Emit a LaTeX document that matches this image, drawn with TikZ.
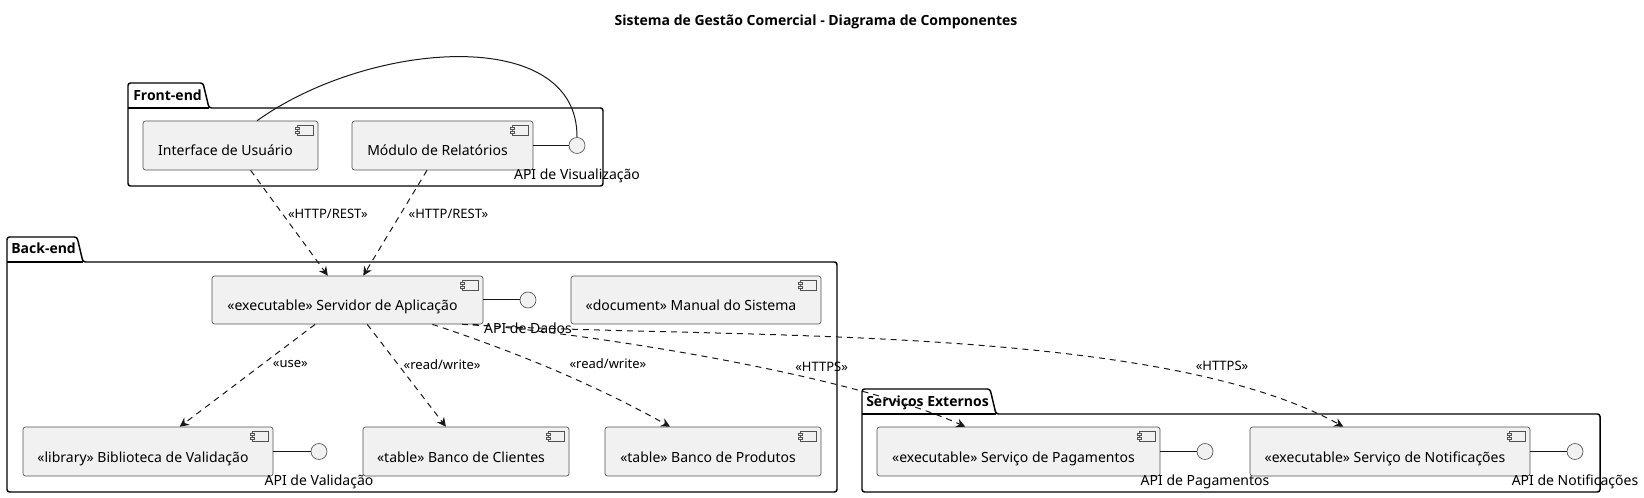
\documentclass[tikz,border=0pt]{standalone}
\usepackage{fontspec}
\setmainfont{Noto Sans}[BoldFont={Noto Sans}, BoldFeatures={FakeBold=2.5}]
\newfontfamily\headfont{Open Sans}
\usetikzlibrary{arrows.meta,positioning}

\definecolor{compfill}{HTML}{F1F1F1}
\definecolor{compline}{HTML}{181818}
\newdimen\pxu
\pxu=0.75pt

\tikzset{
  comp/.style={draw=compline!75, fill=compfill, line width=0.5pt,
    rounded corners=1.9pt, minimum height=36.75pt, inner sep=0pt,
    font=\fontsize{10.5}{12}\selectfont, text height=18pt, text depth=2.25pt,
    execute at begin node={\hspace*{-10\pxu}},
    path picture={
      \draw[sharp corners, draw=compline!75, line width=0.4pt]
        ([shift={(-21,4)}]path picture bounding box.north east) rectangle ++(16,10);
      \draw[sharp corners, draw=compline!75, fill=compfill, line width=0.4pt]
        ([shift={(-23,6)}]path picture bounding box.north east) rectangle ++(4,2)
        ([shift={(-23,10)}]path picture bounding box.north east) rectangle ++(4,2);
    }},
  lolli/.style={circle, draw=compline!75, fill=compfill, line width=0.5pt,
    minimum size=12pt, inner sep=0pt},
  apitext/.style={font=\fontsize{10.5}{12}\selectfont, inner sep=0pt,
    text height=8pt, text depth=2.5pt},
  pkg/.style={draw=black, line width=1.1pt, rounded corners=1.9pt},
  pkgname/.style={font=\headfont\fontsize{10.5}{12}\selectfont\bfseries, anchor=base west, inner sep=0pt},
  dep/.style={draw=compline, line width=0.75pt, dash pattern=on 4.5pt off 3.75pt,
    -{Stealth[length=6.75pt, width=6.75pt, inset=2.25pt]}},
  ball/.style={draw=compline, line width=0.75pt},
  rlabel/.style={font=\fontsize{9.75}{11}\selectfont, inner sep=1pt},
}

\begin{document}
\begin{tikzpicture}[x=0.75pt, y=-0.75pt]
\useasboundingbox (0,0) rectangle (1644,498);

\node[font=\headfont\fontsize{10.5}{12}\selectfont\bfseries, anchor=base] (title) at (816,25.5)
  {Sistema de Gestão Comercial - Diagrama de Componentes};

% packages
\draw[pkg] (128,186) -- (128,83) -- (203,83) -- (209,108) -- (603,108) -- (603,186) -- cycle;
\draw[pkg] (128,108) -- (209,108);
\node[pkgname] (front) at (133,101) {Front-end};

\draw[pkg] (7,492) -- (7,237) -- (77,237) -- (83,262) -- (837,262) -- (837,492) -- cycle;
\draw[pkg] (7,262) -- (83,262);
\node[pkgname] (back) at (11,254) {Back-end};

\draw[pkg] (862,492) -- (862,389) -- (990,389) -- (996,414) -- (1600,414) -- (1600,492) -- cycle;
\draw[pkg] (862,414) -- (996,414);
\node[pkgname] (ext) at (866,406.5) {Serviços Externos};

% components
\node[comp, minimum width=131.25pt] (ui) at (230.5,145.5) {Interface de Usuário};
\node[comp, minimum width=135.75pt] (rel) at (442.5,145.5) {Módulo de Relatórios};
\node[lolli] (vis) at (577,145.5) {};
\node[apitext, below=10.7pt of vis] (vistxt) {API de Visualização};

\node[comp, minimum width=203.25pt, minimum height=36pt] (srv) at (347.5,300) {«executable» Servidor de Aplicação};
\node[lolli] (dados) at (528,300) {};
\node[apitext, below=10.7pt of dados] (dadostxt) {API de Dados};
\node[comp, minimum width=187.5pt, minimum height=36pt] (manual) at (696,300) {«document» Manual do Sistema};

\node[comp, minimum width=187.5pt] (bib) at (148,451.5) {«library» Biblioteca de Validação};
\node[lolli] (valid) at (319,451.5) {};
\node[apitext, below=10.7pt of valid] (validtxt) {API de Validação};
\node[comp, minimum width=154.5pt] (cli) at (466,451.5) {«table» Banco de Clientes};
\node[comp, minimum width=162pt] (prod) at (713,451.5) {«table» Banco de Produtos};

\node[comp, minimum width=212.25pt] (pag) at (1018.5,451.5) {«executable» Serviço de Pagamentos};
\node[lolli] (apipag) at (1205,451.5) {};
\node[apitext, below=10.7pt of apipag] (apipagtxt) {API de Pagamentos};
\node[comp, minimum width=210pt] (notif) at (1390,451.5) {«executable» Serviço de Notificações};
\node[lolli] (apinot) at (1575,451.5) {};
\node[apitext, below=10.7pt of apinot] (apinottxt) {API de Notificações};

% interfaces
\draw[ball] (rel.east) -- (vis.west);
\draw[ball] (ui.43) .. controls (370,40) and (578,25) .. (vis.north);
\draw[ball] (srv.east) -- (dados.west);
\draw[ball] (bib.east) -- (valid.west);
\draw[ball] (pag.east) -- (apipag.west);
\draw[ball] (notif.east) -- (apinot.west);

% dependencies
\draw[dep] (ui.-51) -- node[rlabel, pos=0.41, anchor=west, xshift=3pt] {«HTTP/REST»} (srv.129);
\draw[dep] (rel.-122) -- node[rlabel, pos=0.41, anchor=west, xshift=4.5pt] {«HTTP/REST»} (srv.57);
\draw[dep] (srv.-143) -- node[rlabel, pos=0.39, anchor=west, xshift=6.5pt] {«use»} (bib.38);
\draw[dep] (srv.-51) -- node[rlabel, pos=0.39, anchor=west, xshift=3pt] {«read/write»} (cli.129);
\draw[dep] (srv.-16) .. controls (510,350) and (590,382) .. node[rlabel, pos=0.45, anchor=west, xshift=22pt] {«read/write»} (prod.150);
\draw[dep] (srv.-11) .. controls (600,335) and (850,375) .. node[rlabel, pos=0.68, anchor=south, yshift=6pt] {«HTTPS»} (pag.155);
\draw[dep] (srv.-12) .. controls (700,340) and (1150,320) .. node[rlabel, pos=0.82, anchor=south, xshift=4pt, yshift=6pt] {«HTTPS»} (notif.152);
\end{tikzpicture}
\end{document}
